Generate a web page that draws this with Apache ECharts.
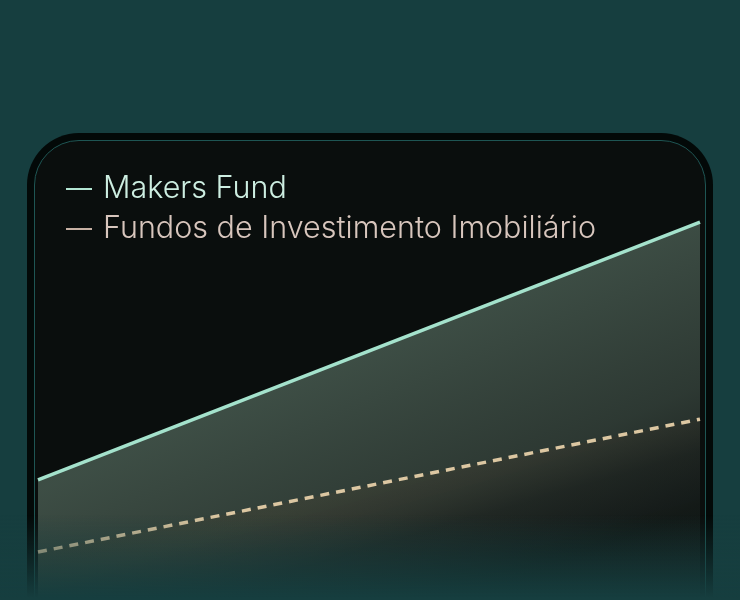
<!DOCTYPE html>
<html>
<head>
<meta charset="utf-8">
<script src="https://cdn.jsdelivr.net/npm/echarts@6/dist/echarts.min.js"></script>
<style>
  html, body { margin:0; padding:0; width:740px; height:600px; overflow:hidden; background:#163e3f; }
  #frame { position:absolute; left:27px; top:133px; width:686px; height:600px; background:#030908; border-radius:52px; }
  #inner { position:absolute; left:34px; top:140px; width:670px; height:600px; background:#0a0e0d; border:1px solid #1e5553; border-radius:45px; }
  #chart { position:absolute; left:0; top:0; width:740px; height:600px; }
  #fade { position:absolute; left:0; top:0; width:740px; height:600px; pointer-events:none;
          background:linear-gradient(to bottom, rgba(22,62,63,0) 0px, rgba(22,62,63,0) 515px, rgba(22,62,63,0.6) 565px, #163e3f 598px); }
</style>
</head>
<body>
<div id="frame"></div>
<div id="inner"></div>
<div id="chart"></div>
<div id="fade"></div>
<script>
const periods = ['Início', 'Fim'];
const makersFund = [27.3, 85.9];
const fundosImobiliarios = [10.9, 41.1];
const seriesNames = ['Makers Fund', 'Fundos de Investimento Imobiliário'];

const chart = echarts.init(document.getElementById('chart'), null, { renderer: 'canvas' });
const G = echarts.graphic;

chart.setOption({
  backgroundColor: 'transparent',
  animation: false,
  grid: { left: 38, right: 40, top: 160, bottom: 0, containLabel: false },
  legend: {
    orient: 'vertical',
    left: 61,
    top: 164,
    itemGap: 0,
    itemWidth: 26,
    itemHeight: 2,
    selectedMode: false,
    textStyle: { fontFamily: 'Inter', fontWeight: 300, fontSize: 30.5, lineHeight: 40, padding: [0, 0, 0, 6] },
    data: [
      { name: seriesNames[0], icon: 'rect', itemStyle: { color: '#b3e6d3', borderWidth: 0 }, textStyle: { color: '#cdeee1' } },
      { name: seriesNames[1], icon: 'rect', itemStyle: { color: '#c7b1a4', borderWidth: 0 }, textStyle: { color: '#d8c6bd' } }
    ]
  },
  xAxis: { type: 'category', data: periods, boundaryGap: false, show: false },
  yAxis: { type: 'value', min: 0, max: 100, show: false, splitLine: { show: false } },
  series: [
    {
      name: seriesNames[0],
      type: 'line',
      data: makersFund,
      symbol: 'none',
      lineStyle: { color: '#a4e2cc', width: 3.5 },
      itemStyle: { color: '#a4e2cc' },
      areaStyle: {
        origin: 'start',
        color: new G.LinearGradient(0.5, 0.34, 0.66, 1.0, [
          { offset: 0, color: '#53695e' },
          { offset: 0.6, color: '#3c4b44' },
          { offset: 1, color: '#1f2624' }
        ])
      },
      z: 2
    },
    {
      name: seriesNames[1],
      type: 'line',
      data: fundosImobiliarios,
      symbol: 'none',
      lineStyle: { color: '#dcc7a2', width: 3.5, type: [9, 7] },
      itemStyle: { color: '#dcc7a2' },
      areaStyle: {
        origin: 'start',
        color: new G.LinearGradient(0.5, 0.37, 0.55, 1.0, [
          { offset: 0, color: 'rgba(74,66,48,0.4)' },
          { offset: 0.5, color: 'rgba(26,28,24,0.6)' },
          { offset: 1, color: 'rgba(14,20,19,0.75)' }
        ])
      },
      z: 3
    }
  ]
});
</script>
</body>
</html>
